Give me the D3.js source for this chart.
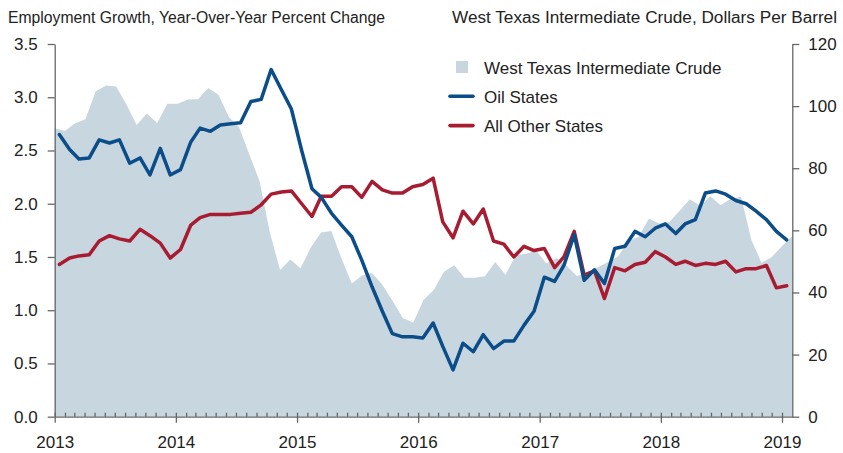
<!DOCTYPE html>
<html>
<head>
<meta charset="utf-8">
<script src="https://cdn.jsdelivr.net/npm/d3@7"></script>
<style>
    body { margin: 0; background: #fff; }
    text { font-family: "Liberation Sans", Arial, sans-serif; fill: #222; }
</style>
</head>
<body>
<div id="oil_chart"></div>
<script>
// monthly series, Oil States and All Other States start Jan 2013
const firstMonth = new Date(2013, 0, 15);
const oilStates = [
    2.65, 2.51, 2.42, 2.43, 2.60, 2.57, 2.60, 2.38, 2.43, 2.27, 2.52, 2.27,
    2.32, 2.58, 2.71, 2.68, 2.74, 2.75, 2.76, 2.96, 2.98, 3.26, 3.07, 2.89,
    2.50, 2.14, 2.06, 1.91, 1.80, 1.69, 1.47, 1.22, 0.99, 0.78, 0.75, 0.75,
    0.74, 0.88, 0.66, 0.44, 0.69, 0.61, 0.77, 0.64, 0.71, 0.71, 0.86, 0.99,
    1.31, 1.27, 1.42, 1.71, 1.28, 1.38, 1.25, 1.58, 1.60, 1.74, 1.69, 1.77,
    1.81, 1.72, 1.81, 1.85, 2.10, 2.12, 2.09, 2.03, 2.00, 1.93, 1.85, 1.74,
    1.66
];
const otherStates = [
    1.43, 1.49, 1.51, 1.52, 1.65, 1.70, 1.67, 1.65, 1.76, 1.70, 1.63, 1.49,
    1.57, 1.80, 1.87, 1.90, 1.90, 1.90, 1.91, 1.92, 1.99, 2.09, 2.11, 2.12,
    2.00, 1.88, 2.07, 2.07, 2.16, 2.16, 2.06, 2.21, 2.13, 2.10, 2.10, 2.16,
    2.18, 2.24, 1.83, 1.68, 1.93, 1.81, 1.95, 1.65, 1.62, 1.50, 1.60, 1.56,
    1.58, 1.40, 1.50, 1.74, 1.33, 1.37, 1.11, 1.40, 1.37, 1.43, 1.45, 1.55,
    1.50, 1.43, 1.46, 1.42, 1.44, 1.43, 1.46, 1.36, 1.39, 1.39, 1.42, 1.21,
    1.23
];
// WTI crude, drawn edge to edge across the plot
const wtiCrude = [
    92.9, 92.0, 94.5, 95.8, 104.7, 106.6, 106.3, 100.5, 93.9, 97.6,
    94.6, 100.8, 100.8, 102.1, 102.2, 105.8, 103.6, 96.5, 93.2, 84.4, 75.8, 59.3,
    47.2, 50.6, 47.8, 54.5, 59.3, 59.8, 50.9, 42.9, 45.5, 46.2, 42.4, 37.2,
    31.7, 30.3, 37.6, 40.8, 46.7, 48.8, 44.7, 44.7, 45.2, 49.8, 45.7, 52.0,
    52.5, 53.5, 49.3, 51.1, 48.5, 45.2, 46.6, 48.0, 49.8, 51.6, 56.6, 57.9,
    63.7, 62.2, 62.7, 66.3, 70.0, 67.9, 71.0, 68.1, 70.2, 70.8, 57.0, 49.5,
    51.4, 55.0, 58.2
];
const leftTicks = [0, 0.5, 1.0, 1.5, 2.0, 2.5, 3.0, 3.5];
const rightTicks = [0, 20, 40, 60, 80, 100, 120];
const yearTicks = [2013, 2014, 2015, 2016, 2017, 2018, 2019];
const legendItems = [
    { label: "West Texas Intermediate Crude", type: "area" },
    { label: "Oil States", type: "oil" },
    { label: "All Other States", type: "other" },
];

const colors = { area: "#c8d6e0", oil: "#0b4d89", other: "#a71c31", axis: "#666" };

const graphDimensions = {
    margin: { top: 44, right: 50.7, bottom: 36.3, left: 54.7 },
    width: 843,
    height: 453,
};
const { width, height, margin } = graphDimensions;
const adjustedWidth = width - margin.left - margin.right;
const adjustedHeight = height - margin.top - margin.bottom;

const svg = d3
    .select("#oil_chart")
    .append("svg")
    .attr("width", width)
    .attr("height", height);

// Titles above each axis
svg.append("text")
    .attr("x", 8)
    .attr("y", 22.5)
    .attr("textLength", 377)
    .attr("lengthAdjust", "spacingAndGlyphs")
    .style("font-size", "16px")
    .text("Employment Growth, Year-Over-Year Percent Change");
svg.append("text")
    .attr("x", 452)
    .attr("y", 22.5)
    .attr("textLength", 385)
    .attr("lengthAdjust", "spacingAndGlyphs")
    .style("font-size", "16px")
    .text("West Texas Intermediate Crude, Dollars Per Barrel");

const g = svg.append("g").attr("transform", `translate(${margin.left}, ${margin.top})`);

const xScale = d3
    .scaleTime()
    .domain([new Date(2013, 0, 1), new Date(2019, 1, 1)])
    .range([0, adjustedWidth]);
const xArea = d3.scaleLinear().domain([0, wtiCrude.length - 1]).range([0, adjustedWidth]);
const yLeft = d3.scaleLinear().domain([0, 3.5]).range([adjustedHeight, 0]);
const yRight = d3.scaleLinear().domain([0, 120]).range([adjustedHeight, 0]);

const monthDate = (i) => d3.timeMonth.offset(firstMonth, i);

// WTI area
g.append("path")
    .datum(wtiCrude)
    .attr("fill", colors.area)
    .attr("d", d3.area()
        .x((d, i) => xArea(i))
        .y0(adjustedHeight)
        .y1((d) => yRight(d)));

// lines
const line = d3.line().x((d, i) => xScale(monthDate(i))).y((d) => yLeft(d));
[[otherStates, colors.other], [oilStates, colors.oil]].forEach(([data, color]) => {
    g.append("path")
        .datum(data)
        .attr("fill", "none")
        .attr("stroke", color)
        .attr("stroke-width", 3.5)
        .attr("stroke-linejoin", "round")
        .attr("stroke-linecap", "round")
        .attr("d", line);
});

// axes
const styleAxis = (sel, size) => {
    sel.select(".domain").attr("stroke", colors.axis).attr("stroke-width", 1.3);
    sel.selectAll(".tick line").attr("stroke", colors.axis).attr("stroke-width", 1.3);
    sel.selectAll(".tick text")
        .style("font-family", "'Liberation Sans', Arial, sans-serif")
        .style("font-size", size)
        .attr("fill", "#222");
};

g.append("g")
    .call(d3.axisLeft(yLeft).tickValues(leftTicks).tickFormat(d3.format(".1f"))
        .tickSize(7).tickSizeOuter(0).tickPadding(10))
    .call(styleAxis, "17px");

g.append("g")
    .attr("transform", `translate(${adjustedWidth}, 0)`)
    .call(d3.axisRight(yRight).tickValues(rightTicks).tickSize(7).tickSizeOuter(0).tickPadding(9))
    .call(styleAxis, "17px");

// monthly minor ticks pointing up
const minorMonths = d3.timeMonth.range(new Date(2013, 0, 1), new Date(2019, 1, 1))
    .filter((d) => d.getMonth() !== 0);
g.append("g")
    .attr("transform", `translate(0, ${adjustedHeight})`)
    .call(d3.axisTop(xScale).tickValues(minorMonths).tickSize(4).tickFormat(""))
    .call(styleAxis, "17px")
    .call((s) => s.select(".domain").remove());

const xAxis = g.append("g")
    .attr("transform", `translate(0, ${adjustedHeight})`)
    .call(d3.axisBottom(xScale)
        .tickValues(yearTicks.map((y) => new Date(y, 0, 1)))
        .tickFormat(d3.timeFormat("%Y"))
        .tickSize(6).tickSizeOuter(0).tickPadding(13))
    .call(styleAxis, "17px");
xAxis.selectAll(".tick line").attr("y1", -4);

// legend
const legend = svg.append("g").attr("transform", "translate(449, 67)");
legendItems.forEach((item, i) => {
    const row = legend.append("g").attr("transform", `translate(0, ${i * 29.3})`);
    if (item.type === "area") {
        row.append("rect")
            .attr("x", 7).attr("y", -6).attr("width", 12).attr("height", 12)
            .attr("fill", colors.area);
    } else {
        row.append("line")
            .attr("x1", 1).attr("x2", 24).attr("y1", 0).attr("y2", 0)
            .attr("stroke", colors[item.type])
            .attr("stroke-width", 3.6)
            .attr("stroke-linecap", "round");
    }
    row.append("text")
        .attr("x", 35)
        .attr("y", 6.5)
        .style("font-size", "17px")
        .text(item.label);
});
</script>
</body>
</html>
